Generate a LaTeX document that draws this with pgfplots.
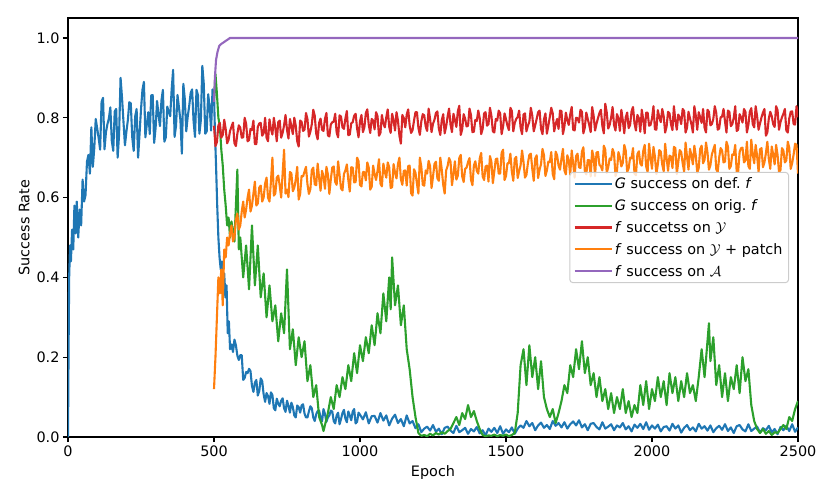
\documentclass[border=0pt]{standalone}
\usepackage{fontspec}
\setmainfont{DejaVu Sans}
\usepackage{pgfplots}
\pgfplotsset{compat=1.18}
\definecolor{tblue}{HTML}{1F77B4}
\definecolor{torange}{HTML}{FF7F0E}
\definecolor{tgreen}{HTML}{2CA02C}
\definecolor{tred}{HTML}{D62728}
\definecolor{tpurple}{HTML}{9467BD}
\begin{document}
\begin{tikzpicture}[font=\fontsize{14.4}{17}\selectfont]
\begin{axis}[
  scale only axis, width=730pt, height=419pt,
  xmin=0, xmax=2500, ymin=0, ymax=1.05,
  xtick={0,500,1000,1500,2000,2500},
  ytick={0,0.2,0.4,0.6,0.8,1.0},
  /pgf/number format/assume math mode=true,
  yticklabel style={/pgf/number format/.cd, fixed, fixed zerofill, precision=1},
  xticklabel style={/pgf/number format/1000 sep={}},
  tick align=outside, xtick pos=bottom, ytick pos=left,
  major tick length=5pt,
  every tick/.style={black, line width=1.15pt},
  axis line style={line width=1.15pt},
  xlabel={Epoch}, ylabel={Success Rate},
  xlabel style={yshift=-2pt},
  legend style={at={(rel axis cs:1,0.5)}, anchor=east, xshift=-9pt,
    draw=black!20, line width=1pt, rounded corners=3pt,
    fill=white, fill opacity=0.8, draw opacity=1, text opacity=1,
    inner xsep=4pt, inner ysep=3pt, row sep=5.5pt,
    nodes={inner sep=2pt, anchor=west}},
  legend cell align=left,
  legend image code/.code={\draw[#1] (0pt,0pt) -- (30pt,0pt); \path (0pt,0pt) -- (37pt,0pt);},
  every axis plot/.append style={line width=2.1pt, line join=round},
]
\path (rel axis cs:0,0) coordinate (A) (rel axis cs:1,1) coordinate (B);
% G success on def. f
\addplot[tblue] coordinates {
(0,0) (2,0.22) (4,0.40) (7,0.48) (10,0.44) (14,0.52) (18,0.47) (22,0.58) (26,0.51) (30,0.59) (35,0.50) (40,0.57) (45,0.53) (50,0.645) (55,0.59) (60,0.606) (65,0.69) (70,0.707) (75,0.66)
(80,0.776) (85,0.677) (90,0.724) (95,0.797) (100,0.773) (105,0.749) (110,0.72) (115,0.84) (120,0.85) (125,0.721) (130,0.764) (135,0.784) (140,0.798) (145,0.826) (150,0.742) (155,0.717) (160,0.816) (165,0.822) (170,0.70) (175,0.759) (180,0.90) (185,0.85) (190,0.79) (195,0.731) (200,0.765) (205,0.794) (210,0.839) (215,0.836) (220,0.751) (225,0.717) (230,0.803) (235,0.822) (240,0.70) (245,0.759) (250,0.821)
(255,0.87) (260,0.89) (265,0.751) (270,0.784) (275,0.814) (280,0.759) (285,0.856) (290,0.857) (295,0.737) (300,0.774) (305,0.842) (310,0.808) (315,0.779) (320,0.843) (325,0.87) (330,0.74) (335,0.751) (340,0.828) (345,0.814) (350,0.804) (355,0.871) (360,0.92) (365,0.752) (370,0.78) (375,0.857) (380,0.826) (385,0.794) (390,0.71) (395,0.885) (400,0.847) (405,0.766) (410,0.803) (415,0.829) (420,0.862) (425,0.871) (430,0.792) (435,0.752) (440,0.87) (445,0.857) (450,0.76) (455,0.794) (460,0.93) (465,0.885) (470,0.76) (475,0.766) (480,0.859) (485,0.829) (490,0.768) (495,0.871) (500,0.86)
(503,0.77) (507,0.68) (511,0.58) (515,0.50) (519,0.45) (523,0.42) (527,0.44) (531,0.38) (535,0.41) (539,0.35) (543,0.38) (547,0.26) (551,0.29) (555,0.22) (560,0.232) (565,0.213) (570,0.244) (575,0.23) (580,0.204) (585,0.193) (590,0.205) (595,0.205) (600,0.143) (605,0.148) (610,0.163) (615,0.16) (620,0.171) (625,0.165) (630,0.128) (635,0.113) (640,0.136) (645,0.143) (650,0.104) (655,0.115) (660,0.147) (665,0.14) (670,0.107) (675,0.088) (680,0.11) (685,0.103) (690,0.083) (695,0.112) (700,0.105)
(705,0.072) (710,0.067) (715,0.096) (720,0.084) (725,0.077) (730,0.091) (735,0.097) (740,0.072) (745,0.063) (750,0.091) (755,0.078) (760,0.061) (765,0.086) (770,0.075) (775,0.054) (780,0.049) (785,0.079) (790,0.075) (795,0.061) (800,0.079) (805,0.082) (810,0.059) (815,0.049) (820,0.049) (825,0.064) (830,0.077) (835,0.072) (840,0.049) (845,0.04) (850,0.057) (855,0.065) (860,0.066) (865,0.048) (870,0.039) (875,0.07) (880,0.058) (885,0.038) (890,0.049) (895,0.054) (900,0.066)
(905,0.064) (910,0.04) (915,0.034) (920,0.054) (925,0.061) (930,0.032) (935,0.045) (940,0.06) (945,0.068) (950,0.046) (955,0.037) (960,0.064) (965,0.054) (970,0.042) (975,0.064) (980,0.07) (985,0.034) (990,0.038) (995,0.061) (1000,0.056)
(1010,0.044) (1020,0.062) (1030,0.034) (1040,0.052) (1050,0.053) (1060,0.036) (1070,0.06) (1080,0.041) (1090,0.054) (1100,0.029) (1110,0.046) (1120,0.056) (1130,0.035) (1140,0.045) (1150,0.027) (1160,0.054) (1170,0.034) (1180,0.04) (1190,0.022) (1200,0.032) (1210,0.012) (1220,0.021) (1230,0.026) (1240,0.016) (1250,0.03) (1260,0.013) (1270,0.021) (1280,0.007) (1290,0.023) (1300,0.026) (1310,0.016) (1320,0.01) (1330,0.028) (1340,0.012) (1350,0.017) (1360,0.023) (1370,0.008) (1380,0.02) (1390,0.014) (1400,0.025) (1410,0.009) (1420,0.017) (1430,0.004) (1440,0.021) (1450,0.013) (1460,0.023) (1470,0.01) (1480,0.027) (1490,0.008) (1500,0.019)
(1510,0.012) (1520,0.024) (1530,0.008) (1540,0.021) (1550,0.029) (1560,0.023) (1570,0.04) (1580,0.027) (1590,0.035) (1600,0.017) (1610,0.029) (1620,0.036) (1630,0.023) (1640,0.03) (1650,0.02) (1660,0.04) (1670,0.028) (1680,0.035) (1690,0.024) (1700,0.037) (1710,0.021) (1720,0.032) (1730,0.039) (1740,0.029) (1750,0.042) (1760,0.024) (1770,0.032) (1780,0.017) (1790,0.033) (1800,0.035) (1810,0.025) (1820,0.019) (1830,0.037) (1840,0.021) (1850,0.026) (1860,0.032) (1870,0.017) (1880,0.029) (1890,0.024) (1900,0.035) (1910,0.019) (1920,0.027) (1930,0.014) (1940,0.031) (1950,0.023) (1960,0.033) (1970,0.02) (1980,0.037) (1990,0.018) (2000,0.029)
(2010,0.021) (2020,0.031) (2030,0.014) (2040,0.025) (2050,0.027) (2060,0.016) (2070,0.033) (2080,0.021) (2090,0.029) (2100,0.011) (2110,0.023) (2120,0.03) (2130,0.017) (2140,0.024) (2150,0.014) (2160,0.033) (2170,0.021) (2180,0.027) (2190,0.016) (2200,0.029) (2210,0.012) (2220,0.022) (2230,0.028) (2240,0.018) (2250,0.032) (2260,0.015) (2270,0.024) (2280,0.01) (2290,0.027) (2300,0.03) (2310,0.019) (2320,0.014) (2330,0.032) (2340,0.015) (2350,0.021) (2360,0.026) (2370,0.011) (2380,0.022) (2390,0.017) (2400,0.028) (2410,0.012) (2420,0.02) (2430,0.007) (2440,0.025) (2450,0.017) (2460,0.028) (2470,0.015) (2480,0.032) (2490,0.013) (2500,0.024)
};
\addlegendentry{\textit{G} success on def.\ \textit{f}}
% G success on orig. f
\addplot[tgreen] coordinates {
(500,0.84) (505,0.91) (510,0.86) (515,0.80) (520,0.78) (525,0.72) (530,0.68) (535,0.62) (540,0.58) (545,0.53) (550,0.55) (555,0.50) (560,0.54) (570,0.49) (580,0.67) (585,0.47) (590,0.50) (600,0.40) (610,0.48) (620,0.37) (630,0.53) (640,0.38) (650,0.48) (660,0.35) (670,0.41) (680,0.30) (690,0.38) (700,0.29) (710,0.33) (720,0.24) (730,0.31) (740,0.26) (750,0.42) (760,0.22) (770,0.27) (780,0.18) (790,0.25) (800,0.20) (810,0.24) (820,0.14) (830,0.18) (840,0.10) (850,0.13) (860,0.05) (870,0.03) (875,0.015) (880,0.03) (890,0.06) (900,0.10) (910,0.07) (920,0.13) (930,0.10) (940,0.15) (950,0.12) (960,0.18) (970,0.14) (980,0.21) (990,0.16) (1000,0.23)
(1010,0.19) (1020,0.25) (1030,0.21) (1040,0.28) (1050,0.23) (1060,0.31) (1070,0.26) (1080,0.36) (1090,0.29) (1100,0.40) (1105,0.32) (1110,0.45) (1120,0.33) (1130,0.38) (1140,0.28) (1150,0.33) (1160,0.22) (1170,0.17) (1180,0.10) (1190,0.05) (1200,0.01) (1210,0.003) (1220,0.005) (1230,0.002) (1240,0.008) (1250,0.004) (1260,0.01) (1270,0.006) (1280,0.012) (1290,0.008) (1300,0.015) (1310,0.02) (1320,0.035) (1330,0.05) (1340,0.03) (1350,0.06) (1360,0.045) (1370,0.08) (1380,0.05) (1390,0.065) (1400,0.04) (1410,0.02) (1420,0.005) (1430,0.002) (1440,0.004) (1450,0.003) (1460,0.006) (1470,0.002) (1480,0.005) (1490,0.003) (1500,0.006)
(1510,0.002) (1520,0.005) (1530,0.01) (1540,0.06) (1550,0.18) (1560,0.22) (1570,0.13) (1580,0.23) (1590,0.15) (1600,0.20) (1610,0.12) (1620,0.19) (1630,0.10) (1640,0.07) (1650,0.05) (1660,0.07) (1670,0.035) (1680,0.06) (1690,0.09) (1700,0.13) (1710,0.11) (1720,0.18) (1730,0.15) (1740,0.22) (1750,0.17) (1760,0.24) (1770,0.16) (1780,0.20) (1790,0.13) (1800,0.16) (1810,0.10) (1820,0.15) (1830,0.09) (1840,0.12) (1850,0.07) (1860,0.11) (1870,0.06) (1880,0.10) (1890,0.07) (1900,0.12) (1910,0.06) (1920,0.09) (1930,0.05) (1940,0.08) (1950,0.06) (1960,0.13) (1970,0.08) (1980,0.14) (1990,0.07) (2000,0.12)
(2010,0.09) (2020,0.15) (2030,0.10) (2040,0.14) (2050,0.08) (2060,0.16) (2070,0.11) (2080,0.15) (2090,0.09) (2100,0.14) (2110,0.10) (2120,0.16) (2130,0.11) (2140,0.13) (2150,0.09) (2160,0.15) (2170,0.22) (2180,0.15) (2190,0.24) (2195,0.285) (2200,0.19) (2210,0.25) (2220,0.13) (2230,0.18) (2240,0.10) (2250,0.16) (2260,0.09) (2270,0.15) (2280,0.12) (2290,0.18) (2300,0.11) (2310,0.20) (2320,0.14) (2330,0.17) (2340,0.08) (2350,0.04) (2360,0.02) (2370,0.01) (2380,0.02) (2390,0.008) (2400,0.015) (2410,0.005) (2420,0.012) (2430,0.01) (2440,0.02) (2450,0.03) (2460,0.02) (2470,0.05) (2480,0.04) (2490,0.07) (2500,0.09)
};
\addlegendentry{\textit{G} success on orig.\ \textit{f}}
% f succetss on Y
\addplot[tred] coordinates {
(500,0.78) (505,0.729) (510,0.739) (515,0.781) (520,0.787) (525,0.750) (530,0.757) (535,0.795) (540,0.772) (545,0.736) (550,0.745) (555,0.767) (560,0.778) (565,0.788) (570,0.736) (575,0.729) (580,0.76) (585,0.781) (590,0.775) (595,0.750) (600,0.751)
(605,0.80) (610,0.785) (615,0.741) (620,0.744) (625,0.772) (630,0.769) (635,0.793) (640,0.734) (645,0.734) (650,0.777) (655,0.786) (660,0.787) (665,0.755) (670,0.761) (675,0.80) (680,0.75) (685,0.741) (690,0.796) (695,0.772) (700,0.758)
(705,0.80) (710,0.774) (715,0.741) (720,0.789) (725,0.793) (730,0.75) (735,0.762) (740,0.781) (745,0.807) (750,0.77) (755,0.748) (760,0.797) (765,0.779) (770,0.759) (775,0.80) (780,0.78) (785,0.741) (790,0.728) (795,0.793) (800,0.79)
(805,0.767) (810,0.77) (815,0.812) (820,0.797) (825,0.753) (830,0.765) (835,0.784) (840,0.82) (845,0.805) (850,0.76) (855,0.746) (860,0.787) (865,0.798) (870,0.77) (875,0.767) (880,0.797) (885,0.812) (890,0.756) (895,0.753) (900,0.783)
(905,0.789) (910,0.79) (915,0.81) (920,0.763) (925,0.751) (930,0.806) (935,0.803) (940,0.776) (945,0.772) (950,0.798) (955,0.817) (960,0.756) (965,0.758) (970,0.786) (975,0.789) (980,0.805) (985,0.81) (990,0.773) (995,0.751) (1000,0.791)
(1005,0.807) (1010,0.764) (1015,0.776) (1020,0.812) (1025,0.821) (1030,0.782) (1035,0.762) (1040,0.797) (1045,0.793) (1050,0.771) (1055,0.814) (1060,0.804) (1065,0.755) (1070,0.762) (1075,0.807) (1080,0.786) (1085,0.776) (1090,0.801) (1095,0.821) (1100,0.777)
(1105,0.762) (1110,0.81) (1115,0.793) (1120,0.768) (1125,0.814) (1130,0.793) (1135,0.755) (1140,0.735) (1145,0.807) (1150,0.799) (1155,0.776) (1160,0.808) (1165,0.821) (1170,0.781) (1175,0.762) (1180,0.769) (1185,0.793) (1190,0.814) (1195,0.814) (1200,0.775)
(1205,0.757) (1210,0.791) (1215,0.809) (1220,0.806) (1225,0.778) (1230,0.767) (1235,0.823) (1240,0.797) (1245,0.764) (1250,0.785) (1255,0.795) (1260,0.812) (1265,0.816) (1270,0.773) (1275,0.757) (1280,0.794) (1285,0.809) (1290,0.761) (1295,0.778) (1300,0.803)
(1305,0.823) (1310,0.783) (1315,0.764) (1320,0.81) (1325,0.795) (1330,0.777) (1335,0.816) (1340,0.83) (1345,0.757) (1350,0.771) (1355,0.809) (1360,0.798) (1365,0.778) (1370,0.78) (1375,0.823) (1380,0.807) (1385,0.764) (1390,0.765) (1395,0.795) (1400,0.792)
(1405,0.818) (1410,0.799) (1415,0.759) (1420,0.772) (1425,0.811) (1430,0.814) (1435,0.78) (1440,0.784) (1445,0.825) (1450,0.805) (1455,0.766) (1460,0.763) (1465,0.797) (1470,0.793) (1475,0.818) (1480,0.811) (1485,0.759) (1490,0.778) (1495,0.811) (1500,0.796)
(1505,0.78) (1510,0.769) (1515,0.825) (1520,0.817) (1525,0.766) (1530,0.787) (1535,0.797) (1540,0.802) (1545,0.818) (1550,0.775) (1555,0.759) (1560,0.808) (1565,0.811) (1570,0.766) (1575,0.78) (1580,0.79) (1585,0.825) (1590,0.805) (1595,0.766) (1600,0.781)
(1605,0.797) (1610,0.814) (1615,0.818) (1620,0.772) (1625,0.759) (1630,0.796) (1635,0.811) (1640,0.76) (1645,0.78) (1650,0.802) (1655,0.825) (1660,0.811) (1665,0.766) (1670,0.784) (1675,0.797) (1680,0.772) (1685,0.818) (1690,0.817) (1695,0.759) (1700,0.778)
(1705,0.813) (1710,0.794) (1715,0.782) (1720,0.809) (1725,0.827) (1730,0.77) (1735,0.768) (1740,0.8) (1745,0.799) (1750,0.788) (1755,0.82) (1760,0.815) (1765,0.761) (1770,0.776) (1775,0.813) (1780,0.797) (1785,0.782) (1790,0.764) (1795,0.827) (1800,0.806)
(1805,0.768) (1810,0.785) (1815,0.799) (1820,0.812) (1825,0.82) (1830,0.779) (1835,0.761) (1840,0.835) (1845,0.813) (1850,0.773) (1855,0.782) (1860,0.8) (1865,0.827) (1870,0.782) (1875,0.768) (1880,0.809) (1885,0.799) (1890,0.767) (1895,0.82) (1900,0.794)
(1905,0.761) (1910,0.801) (1915,0.813) (1920,0.774) (1925,0.782) (1930,0.816) (1935,0.827) (1940,0.786) (1945,0.768) (1950,0.807) (1955,0.799) (1960,0.765) (1965,0.82) (1970,0.795) (1975,0.761) (1980,0.813) (1985,0.813) (1990,0.78) (1995,0.782) (2000,0.798)
(2005,0.829) (2010,0.771) (2015,0.77) (2020,0.819) (2025,0.801) (2030,0.789) (2035,0.822) (2040,0.804) (2045,0.763) (2050,0.778) (2055,0.815) (2060,0.811) (2065,0.784) (2070,0.769) (2075,0.829) (2080,0.793) (2085,0.77) (2090,0.808) (2095,0.801) (2100,0.784)
(2105,0.822) (2110,0.817) (2115,0.763) (2120,0.775) (2125,0.815) (2130,0.799) (2135,0.784) (2140,0.763) (2145,0.829) (2150,0.805) (2155,0.77) (2160,0.814) (2165,0.801) (2170,0.787) (2175,0.822) (2180,0.775) (2185,0.763) (2190,0.82) (2195,0.815) (2200,0.781)
(2205,0.784) (2210,0.797) (2215,0.829) (2220,0.812) (2225,0.77) (2230,0.773) (2235,0.801) (2240,0.803) (2245,0.822) (2250,0.791) (2255,0.763) (2260,0.818) (2265,0.815) (2270,0.779) (2275,0.784) (2280,0.8) (2285,0.829) (2290,0.767) (2295,0.77) (2300,0.809)
(2305,0.801) (2310,0.788) (2315,0.822) (2320,0.815) (2325,0.763) (2330,0.782) (2335,0.815) (2340,0.824) (2345,0.784) (2350,0.776) (2355,0.829) (2360,0.803) (2365,0.77) (2370,0.786) (2375,0.801) (2380,0.813) (2385,0.822) (2390,0.755) (2395,0.763) (2400,0.798)
(2405,0.815) (2410,0.804) (2415,0.784) (2420,0.777) (2425,0.829) (2430,0.819) (2435,0.77) (2440,0.789) (2445,0.801) (2450,0.81) (2455,0.822) (2460,0.768) (2465,0.763) (2470,0.798) (2475,0.815) (2480,0.816) (2485,0.784) (2490,0.783) (2495,0.829) (2500,0.801)
};
\addlegendentry{\textit{f} succetss on $\mathcal{Y}$}
% f success on Y + patch
\addplot[torange] coordinates {
(500,0.12) (505,0.20) (510,0.30) (515,0.40) (520,0.36) (525,0.42) (530,0.33) (535,0.47) (540,0.45) (545,0.50) (550,0.48) (555,0.51) (560,0.53) (565,0.49) (570,0.50) (575,0.545) (580,0.56) (585,0.52) (590,0.53) (595,0.565) (600,0.59) (605,0.55) (610,0.57) (615,0.60) (620,0.62) (625,0.565) (630,0.58) (635,0.61) (640,0.64) (645,0.58) (650,0.585) (655,0.625) (660,0.63) (665,0.59) (670,0.60) (675,0.635) (680,0.65) (685,0.60) (690,0.59) (695,0.64) (700,0.70) (705,0.605) (710,0.61) (715,0.65) (720,0.655) (725,0.63) (730,0.60) (735,0.66) (740,0.72) (745,0.61) (750,0.62)
(755,0.601) (760,0.664) (765,0.661) (770,0.616) (775,0.625) (780,0.645) (785,0.677) (790,0.595) (795,0.609) (800,0.654)
(805,0.653) (810,0.665) (815,0.677) (820,0.634) (825,0.609) (830,0.621) (835,0.669) (840,0.675) (845,0.633) (850,0.631) (855,0.685) (860,0.649) (865,0.617) (870,0.667) (875,0.653) (880,0.622) (885,0.677) (890,0.658) (895,0.609) (900,0.645)
(905,0.675) (910,0.678) (915,0.639) (920,0.632) (925,0.691) (930,0.657) (935,0.623) (940,0.618) (945,0.659) (950,0.668) (955,0.683) (960,0.644) (965,0.615) (970,0.676) (975,0.675) (980,0.638) (985,0.639) (990,0.70) (995,0.691) (1000,0.632)
(1005,0.628) (1010,0.664) (1015,0.664) (1020,0.643) (1025,0.688) (1030,0.675) (1035,0.62) (1040,0.627) (1045,0.68) (1050,0.659) (1055,0.644) (1060,0.667) (1065,0.696) (1070,0.635) (1075,0.628) (1080,0.685) (1085,0.664) (1090,0.65) (1095,0.688) (1100,0.676)
(1105,0.624) (1110,0.626) (1115,0.684) (1120,0.662) (1125,0.648) (1130,0.684) (1135,0.70) (1140,0.646) (1145,0.632) (1150,0.667) (1155,0.668) (1160,0.63) (1165,0.679) (1170,0.68) (1175,0.611) (1180,0.605) (1185,0.671) (1190,0.662) (1195,0.635) (1200,0.61)
(1205,0.70) (1210,0.677) (1215,0.632) (1220,0.63) (1225,0.668) (1230,0.66) (1235,0.692) (1240,0.679) (1245,0.624) (1250,0.652) (1255,0.684) (1260,0.69) (1265,0.648) (1270,0.642) (1275,0.70) (1280,0.67) (1285,0.632) (1290,0.61) (1295,0.668) (1300,0.679)
(1305,0.699) (1310,0.69) (1315,0.631) (1320,0.659) (1325,0.691) (1330,0.645) (1335,0.655) (1340,0.699) (1345,0.707) (1350,0.653) (1355,0.639) (1360,0.672) (1365,0.675) (1370,0.689) (1375,0.699) (1380,0.645) (1385,0.631) (1390,0.68) (1395,0.691) (1400,0.667)
(1405,0.66) (1410,0.698) (1415,0.712) (1420,0.653) (1425,0.644) (1430,0.678) (1435,0.68) (1440,0.64) (1445,0.704) (1450,0.69) (1455,0.636) (1460,0.666) (1465,0.696) (1470,0.698) (1475,0.66) (1480,0.66) (1485,0.712) (1490,0.72) (1495,0.644) (1500,0.654)
(1505,0.686) (1510,0.686) (1515,0.71) (1520,0.665) (1525,0.642) (1530,0.697) (1535,0.702) (1540,0.649) (1545,0.666) (1550,0.681) (1555,0.718) (1560,0.689) (1565,0.65) (1570,0.657) (1575,0.686) (1580,0.707) (1585,0.71) (1590,0.672) (1595,0.642) (1600,0.698)
(1605,0.706) (1610,0.649) (1615,0.67) (1620,0.684) (1625,0.722) (1630,0.706) (1635,0.654) (1640,0.668) (1645,0.69) (1650,0.689) (1655,0.714) (1660,0.659) (1665,0.646) (1670,0.715) (1675,0.706) (1680,0.68) (1685,0.67) (1690,0.698) (1695,0.722) (1700,0.668)
(1705,0.658) (1710,0.706) (1715,0.694) (1720,0.657) (1725,0.718) (1730,0.686) (1735,0.65) (1740,0.704) (1745,0.71) (1750,0.676) (1755,0.674) (1760,0.715) (1765,0.726) (1770,0.666) (1775,0.658) (1780,0.694) (1785,0.694) (1790,0.653) (1795,0.718) (1800,0.702)
(1805,0.654) (1810,0.713) (1815,0.714) (1820,0.682) (1825,0.678) (1830,0.668) (1835,0.73) (1840,0.72) (1845,0.662) (1850,0.676) (1855,0.698) (1860,0.694) (1865,0.722) (1870,0.711) (1875,0.654) (1880,0.666) (1885,0.714) (1890,0.701) (1895,0.678) (1900,0.687)
(1905,0.732) (1910,0.718) (1915,0.664) (1920,0.673) (1925,0.70) (1930,0.698) (1935,0.724) (1940,0.66) (1945,0.656) (1950,0.709) (1955,0.716) (1960,0.685) (1965,0.68) (1970,0.717) (1975,0.732) (1980,0.678) (1985,0.664) (1990,0.735) (1995,0.70) (2000,0.672)
(2005,0.727) (2010,0.703) (2015,0.659) (2020,0.683) (2025,0.719) (2030,0.715) (2035,0.683) (2040,0.666) (2045,0.735) (2050,0.699) (2055,0.667) (2060,0.705) (2065,0.703) (2070,0.674) (2075,0.727) (2080,0.724) (2085,0.659) (2090,0.689) (2095,0.719) (2100,0.714)
(2105,0.686) (2110,0.665) (2115,0.738) (2120,0.701) (2125,0.67) (2130,0.722) (2135,0.706) (2140,0.683) (2145,0.73) (2150,0.705) (2155,0.662) (2160,0.674) (2165,0.722) (2170,0.73) (2175,0.686) (2180,0.695) (2185,0.738) (2190,0.713) (2195,0.67) (2200,0.681)
(2205,0.708) (2210,0.72) (2215,0.732) (2220,0.671) (2225,0.664) (2230,0.70) (2235,0.724) (2240,0.718) (2245,0.688) (2250,0.69) (2255,0.74) (2260,0.728) (2265,0.672) (2270,0.679) (2275,0.708) (2280,0.707) (2285,0.732) (2290,0.665) (2295,0.664) (2300,0.714)
(2305,0.724) (2310,0.725) (2315,0.688) (2320,0.693) (2325,0.74) (2330,0.679) (2335,0.672) (2340,0.745) (2345,0.708) (2350,0.686) (2355,0.732) (2360,0.704) (2365,0.664) (2370,0.721) (2375,0.724) (2380,0.676) (2385,0.688) (2390,0.711) (2395,0.74) (2400,0.697)
(2405,0.672) (2410,0.728) (2415,0.708) (2420,0.683) (2425,0.732) (2430,0.707) (2435,0.664) (2440,0.669) (2445,0.724) (2450,0.718) (2455,0.688) (2460,0.693) (2465,0.74) (2470,0.725) (2475,0.672) (2480,0.686) (2485,0.708) (2490,0.735) (2495,0.732) (2500,0.66)
};
\addlegendentry{\textit{f} success on $\mathcal{Y}$ + patch}
% f success on A
\addplot[tpurple] coordinates {
(500,0.84) (503,0.90) (507,0.945) (512,0.965) (518,0.98) (525,0.985) (535,0.99) (545,0.995) (555,1.0) (2500,1.0)
};
\addlegendentry{\textit{f} success on $\mathcal{A}$}
\end{axis}
\pgfresetboundingbox
\path ([shift={(-68pt,-61pt)}]A) rectangle ([shift={(32pt,18pt)}]B);
\end{tikzpicture}
\end{document}
